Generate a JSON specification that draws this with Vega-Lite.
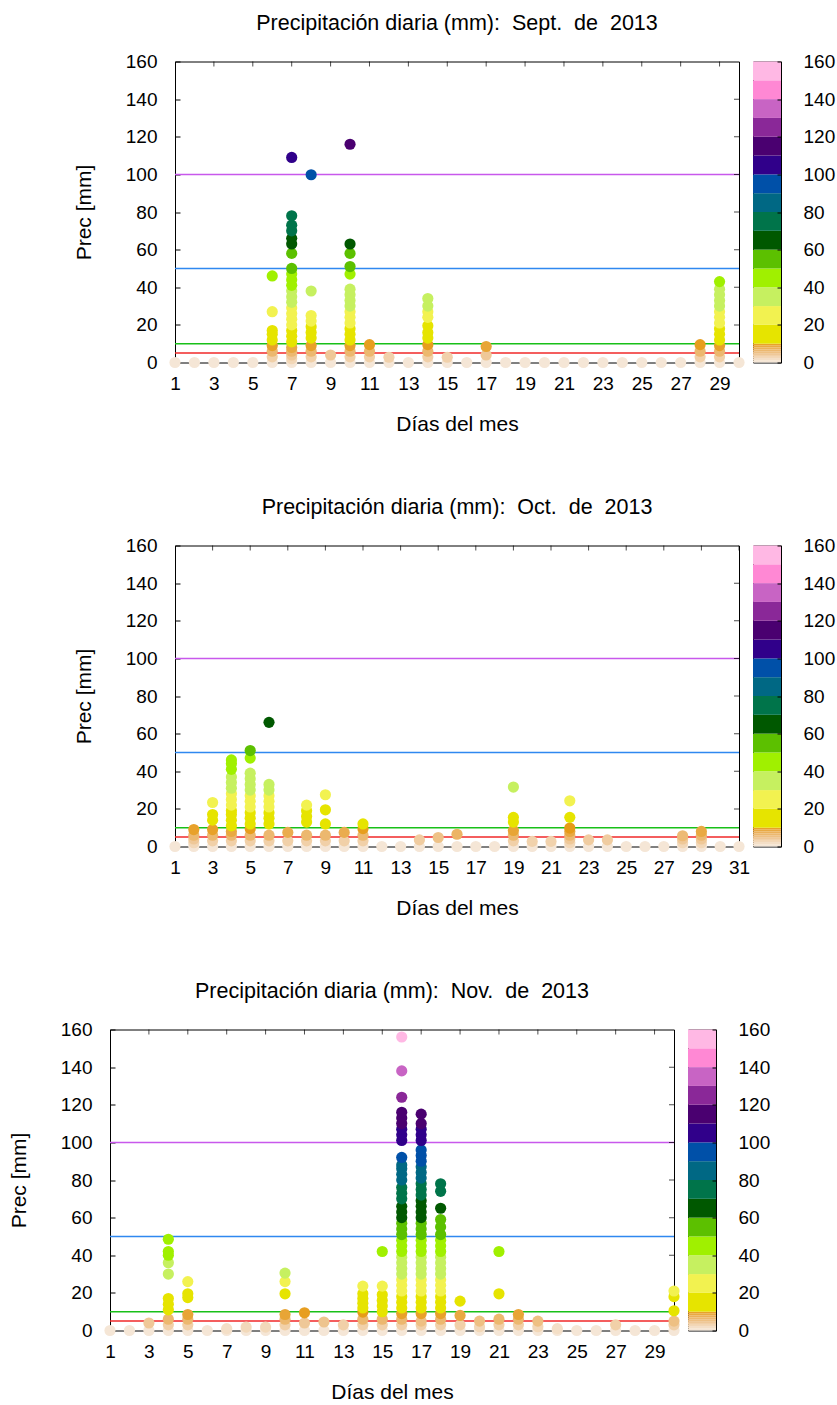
{
  "$schema": "https://vega.github.io/schema/vega-lite/v6.json",
  "padding": {"left": 7, "top": 12.5, "right": 0, "bottom": 0},
  "config": {
    "font": "Liberation Sans",
    "view": {"stroke": "#000", "strokeWidth": 1},
    "axis": {
      "grid": false, "domain": false, "labelOverlap": false, "tickCount": 40,
      "labelFont": "Liberation Sans", "labelFontSize": 19, "labelColor": "#000",
      "titleFont": "Liberation Sans", "titleFontSize": 21, "titleFontWeight": "normal", "titleColor": "#000",
      "tickColor": "#000", "tickWidth": 1
    },
    "title": {"font": "Liberation Sans", "fontSize": 21.5, "fontWeight": "normal", "color": "#000", "offset": 18}
  },
  "datasets": {
    "lines": [{"v": 5}, {"v": 10}, {"v": 50}, {"v": 100}],
    "xt30": [{"d": 1}, {"d": 3}, {"d": 5}, {"d": 7}, {"d": 9}, {"d": 11}, {"d": 13}, {"d": 15}, {"d": 17}, {"d": 19}, {"d": 21}, {"d": 23}, {"d": 25}, {"d": 27}, {"d": 29}],
    "xt31": [{"d": 1}, {"d": 3}, {"d": 5}, {"d": 7}, {"d": 9}, {"d": 11}, {"d": 13}, {"d": 15}, {"d": 17}, {"d": 19}, {"d": 21}, {"d": 23}, {"d": 25}, {"d": 27}, {"d": 29}, {"d": 31}],
    "yt": [{"v": 20}, {"v": 40}, {"v": 60}, {"v": 80}, {"v": 100}, {"v": 120}, {"v": 140}],
    "cbar": [
      {"lo": 0, "hi": 1}, {"lo": 1, "hi": 2}, {"lo": 2, "hi": 3}, {"lo": 3, "hi": 4}, {"lo": 4, "hi": 5},
      {"lo": 5, "hi": 6}, {"lo": 6, "hi": 7}, {"lo": 7, "hi": 8}, {"lo": 8, "hi": 9}, {"lo": 9, "hi": 10},
      {"lo": 10, "hi": 20}, {"lo": 20, "hi": 30}, {"lo": 30, "hi": 40}, {"lo": 40, "hi": 50}, {"lo": 50, "hi": 60},
      {"lo": 60, "hi": 70}, {"lo": 70, "hi": 80}, {"lo": 80, "hi": 90}, {"lo": 90, "hi": 100}, {"lo": 100, "hi": 110},
      {"lo": 110, "hi": 120}, {"lo": 120, "hi": 130}, {"lo": 130, "hi": 140}, {"lo": 140, "hi": 150}, {"lo": 150, "hi": 160}
    ],
    "sep": [
      {"d": 1, "v": 0}, {"d": 2, "v": 0}, {"d": 3, "v": 0}, {"d": 4, "v": 0}, {"d": 5, "v": 0},
      {"d": 6, "v": 0}, {"d": 6, "v": 3}, {"d": 6, "v": 6}, {"d": 6, "v": 9}, {"d": 6, "v": 12}, {"d": 6, "v": 15}, {"d": 6, "v": 17}, {"d": 6, "v": 27}, {"d": 6, "v": 46},
      {"d": 7, "v": 0}, {"d": 7, "v": 2}, {"d": 7, "v": 4}, {"d": 7, "v": 6}, {"d": 7, "v": 8}, {"d": 7, "v": 11}, {"d": 7, "v": 14}, {"d": 7, "v": 17}, {"d": 7, "v": 20}, {"d": 7, "v": 23}, {"d": 7, "v": 26}, {"d": 7, "v": 29}, {"d": 7, "v": 32}, {"d": 7, "v": 35}, {"d": 7, "v": 38}, {"d": 7, "v": 41}, {"d": 7, "v": 44}, {"d": 7, "v": 47}, {"d": 7, "v": 50}, {"d": 7, "v": 58}, {"d": 7, "v": 63}, {"d": 7, "v": 66}, {"d": 7, "v": 70}, {"d": 7, "v": 73}, {"d": 7, "v": 78}, {"d": 7, "v": 109},
      {"d": 8, "v": 0}, {"d": 8, "v": 3}, {"d": 8, "v": 6}, {"d": 8, "v": 9}, {"d": 8, "v": 13}, {"d": 8, "v": 16}, {"d": 8, "v": 19}, {"d": 8, "v": 22}, {"d": 8, "v": 25}, {"d": 8, "v": 38}, {"d": 8, "v": 99.8},
      {"d": 9, "v": 0}, {"d": 9, "v": 4},
      {"d": 10, "v": 0}, {"d": 10, "v": 3}, {"d": 10, "v": 6}, {"d": 10, "v": 9}, {"d": 10, "v": 12}, {"d": 10, "v": 15}, {"d": 10, "v": 18}, {"d": 10, "v": 21}, {"d": 10, "v": 24}, {"d": 10, "v": 27}, {"d": 10, "v": 30}, {"d": 10, "v": 33}, {"d": 10, "v": 36}, {"d": 10, "v": 39}, {"d": 10, "v": 47}, {"d": 10, "v": 51}, {"d": 10, "v": 58}, {"d": 10, "v": 63}, {"d": 10, "v": 116},
      {"d": 11, "v": 0}, {"d": 11, "v": 3}, {"d": 11, "v": 6}, {"d": 11, "v": 9.5},
      {"d": 12, "v": 0}, {"d": 12, "v": 2.8},
      {"d": 13, "v": 0},
      {"d": 14, "v": 0}, {"d": 14, "v": 3}, {"d": 14, "v": 6}, {"d": 14, "v": 9.5}, {"d": 14, "v": 13}, {"d": 14, "v": 16}, {"d": 14, "v": 19.5}, {"d": 14, "v": 24}, {"d": 14, "v": 27}, {"d": 14, "v": 30}, {"d": 14, "v": 34},
      {"d": 15, "v": 0}, {"d": 15, "v": 2.8},
      {"d": 16, "v": 0},
      {"d": 17, "v": 0}, {"d": 17, "v": 4}, {"d": 17, "v": 8.5},
      {"d": 18, "v": 0}, {"d": 19, "v": 0}, {"d": 20, "v": 0}, {"d": 21, "v": 0}, {"d": 22, "v": 0}, {"d": 23, "v": 0}, {"d": 24, "v": 0}, {"d": 25, "v": 0}, {"d": 26, "v": 0}, {"d": 27, "v": 0},
      {"d": 28, "v": 0}, {"d": 28, "v": 3}, {"d": 28, "v": 6}, {"d": 28, "v": 9.5},
      {"d": 29, "v": 0}, {"d": 29, "v": 3}, {"d": 29, "v": 6}, {"d": 29, "v": 9}, {"d": 29, "v": 12}, {"d": 29, "v": 15}, {"d": 29, "v": 18}, {"d": 29, "v": 21}, {"d": 29, "v": 24}, {"d": 29, "v": 27}, {"d": 29, "v": 30}, {"d": 29, "v": 33}, {"d": 29, "v": 36}, {"d": 29, "v": 39}, {"d": 29, "v": 43},
      {"d": 30, "v": 0}
    ],
    "oct": [
      {"d": 1, "v": 0},
      {"d": 2, "v": 0}, {"d": 2, "v": 2}, {"d": 2, "v": 4}, {"d": 2, "v": 6}, {"d": 2, "v": 9},
      {"d": 3, "v": 0}, {"d": 3, "v": 3}, {"d": 3, "v": 6}, {"d": 3, "v": 9}, {"d": 3, "v": 14}, {"d": 3, "v": 17}, {"d": 3, "v": 23.4},
      {"d": 4, "v": 0}, {"d": 4, "v": 3}, {"d": 4, "v": 6}, {"d": 4, "v": 8}, {"d": 4, "v": 11}, {"d": 4, "v": 14}, {"d": 4, "v": 17}, {"d": 4, "v": 19}, {"d": 4, "v": 22}, {"d": 4, "v": 25}, {"d": 4, "v": 28}, {"d": 4, "v": 31}, {"d": 4, "v": 34}, {"d": 4, "v": 37}, {"d": 4, "v": 41}, {"d": 4, "v": 44}, {"d": 4, "v": 46},
      {"d": 5, "v": 0}, {"d": 5, "v": 3}, {"d": 5, "v": 6}, {"d": 5, "v": 9.5}, {"d": 5, "v": 12}, {"d": 5, "v": 15}, {"d": 5, "v": 18}, {"d": 5, "v": 21}, {"d": 5, "v": 24}, {"d": 5, "v": 27}, {"d": 5, "v": 30}, {"d": 5, "v": 33}, {"d": 5, "v": 36}, {"d": 5, "v": 39}, {"d": 5, "v": 47}, {"d": 5, "v": 51},
      {"d": 6, "v": 0}, {"d": 6, "v": 3}, {"d": 6, "v": 6}, {"d": 6, "v": 12}, {"d": 6, "v": 15}, {"d": 6, "v": 18}, {"d": 6, "v": 21}, {"d": 6, "v": 24}, {"d": 6, "v": 27}, {"d": 6, "v": 30}, {"d": 6, "v": 33}, {"d": 6, "v": 66},
      {"d": 7, "v": 0}, {"d": 7, "v": 3}, {"d": 7, "v": 7.5},
      {"d": 8, "v": 0}, {"d": 8, "v": 3}, {"d": 8, "v": 6}, {"d": 8, "v": 13}, {"d": 8, "v": 16}, {"d": 8, "v": 19}, {"d": 8, "v": 22},
      {"d": 9, "v": 0}, {"d": 9, "v": 3}, {"d": 9, "v": 6}, {"d": 9, "v": 12}, {"d": 9, "v": 19.5}, {"d": 9, "v": 27.5},
      {"d": 10, "v": 0}, {"d": 10, "v": 3}, {"d": 10, "v": 7.5},
      {"d": 11, "v": 0}, {"d": 11, "v": 3}, {"d": 11, "v": 6}, {"d": 11, "v": 9.5}, {"d": 11, "v": 12},
      {"d": 12, "v": 0}, {"d": 13, "v": 0},
      {"d": 14, "v": 0}, {"d": 14, "v": 3.5},
      {"d": 15, "v": 0}, {"d": 15, "v": 4.8},
      {"d": 16, "v": 0}, {"d": 16, "v": 6.5},
      {"d": 17, "v": 0}, {"d": 18, "v": 0},
      {"d": 19, "v": 0}, {"d": 19, "v": 3}, {"d": 19, "v": 6}, {"d": 19, "v": 8.5}, {"d": 19, "v": 13}, {"d": 19, "v": 15.5}, {"d": 19, "v": 31.6},
      {"d": 20, "v": 0}, {"d": 20, "v": 2.7},
      {"d": 21, "v": 0}, {"d": 21, "v": 2.7},
      {"d": 22, "v": 0}, {"d": 22, "v": 2}, {"d": 22, "v": 4}, {"d": 22, "v": 6}, {"d": 22, "v": 8}, {"d": 22, "v": 9.8}, {"d": 22, "v": 15.5}, {"d": 22, "v": 24.3},
      {"d": 23, "v": 0}, {"d": 23, "v": 3.5},
      {"d": 24, "v": 0}, {"d": 24, "v": 3.5},
      {"d": 25, "v": 0}, {"d": 26, "v": 0}, {"d": 27, "v": 0},
      {"d": 28, "v": 0}, {"d": 28, "v": 2}, {"d": 28, "v": 4}, {"d": 28, "v": 5.7},
      {"d": 29, "v": 0}, {"d": 29, "v": 2}, {"d": 29, "v": 4}, {"d": 29, "v": 6}, {"d": 29, "v": 8},
      {"d": 30, "v": 0}, {"d": 31, "v": 0}
    ],
    "nov": [
      {"d": 1, "v": 0}, {"d": 2, "v": 0},
      {"d": 3, "v": 0}, {"d": 3, "v": 4},
      {"d": 4, "v": 0}, {"d": 4, "v": 3}, {"d": 4, "v": 6}, {"d": 4, "v": 11}, {"d": 4, "v": 14}, {"d": 4, "v": 17}, {"d": 4, "v": 30}, {"d": 4, "v": 36}, {"d": 4, "v": 40}, {"d": 4, "v": 42}, {"d": 4, "v": 48.5},
      {"d": 5, "v": 0}, {"d": 5, "v": 3}, {"d": 5, "v": 6}, {"d": 5, "v": 8.5}, {"d": 5, "v": 17.5}, {"d": 5, "v": 19.5}, {"d": 5, "v": 26},
      {"d": 6, "v": 0},
      {"d": 7, "v": 0}, {"d": 7, "v": 1},
      {"d": 8, "v": 0}, {"d": 8, "v": 1.8},
      {"d": 9, "v": 0}, {"d": 9, "v": 1.8},
      {"d": 10, "v": 0}, {"d": 10, "v": 3}, {"d": 10, "v": 6}, {"d": 10, "v": 8.5}, {"d": 10, "v": 19.5}, {"d": 10, "v": 26}, {"d": 10, "v": 30.5},
      {"d": 11, "v": 0}, {"d": 11, "v": 4}, {"d": 11, "v": 9.4},
      {"d": 12, "v": 0}, {"d": 12, "v": 4.5},
      {"d": 13, "v": 0}, {"d": 13, "v": 3},
      {"d": 14, "v": 0}, {"d": 14, "v": 3}, {"d": 14, "v": 6}, {"d": 14, "v": 9.8}, {"d": 14, "v": 12}, {"d": 14, "v": 14.5}, {"d": 14, "v": 17}, {"d": 14, "v": 19.5}, {"d": 14, "v": 23.6},
      {"d": 15, "v": 0}, {"d": 15, "v": 3}, {"d": 15, "v": 6}, {"d": 15, "v": 10}, {"d": 15, "v": 13}, {"d": 15, "v": 16}, {"d": 15, "v": 19}, {"d": 15, "v": 23.6}, {"d": 15, "v": 42},
      {"d": 16, "v": 0}, {"d": 16, "v": 3}, {"d": 16, "v": 6}, {"d": 16, "v": 9}, {"d": 16, "v": 12}, {"d": 16, "v": 15}, {"d": 16, "v": 18}, {"d": 16, "v": 21}, {"d": 16, "v": 24}, {"d": 16, "v": 27}, {"d": 16, "v": 30}, {"d": 16, "v": 33}, {"d": 16, "v": 36}, {"d": 16, "v": 39}, {"d": 16, "v": 42}, {"d": 16, "v": 45}, {"d": 16, "v": 48}, {"d": 16, "v": 51}, {"d": 16, "v": 54}, {"d": 16, "v": 57}, {"d": 16, "v": 60}, {"d": 16, "v": 63}, {"d": 16, "v": 66}, {"d": 16, "v": 70}, {"d": 16, "v": 73}, {"d": 16, "v": 76}, {"d": 16, "v": 80}, {"d": 16, "v": 83}, {"d": 16, "v": 86}, {"d": 16, "v": 88}, {"d": 16, "v": 92}, {"d": 16, "v": 101}, {"d": 16, "v": 104}, {"d": 16, "v": 107}, {"d": 16, "v": 110}, {"d": 16, "v": 113}, {"d": 16, "v": 116}, {"d": 16, "v": 124}, {"d": 16, "v": 138}, {"d": 16, "v": 156},
      {"d": 17, "v": 0}, {"d": 17, "v": 3}, {"d": 17, "v": 5}, {"d": 17, "v": 9}, {"d": 17, "v": 12}, {"d": 17, "v": 15}, {"d": 17, "v": 18}, {"d": 17, "v": 21}, {"d": 17, "v": 24}, {"d": 17, "v": 27}, {"d": 17, "v": 30}, {"d": 17, "v": 33}, {"d": 17, "v": 36}, {"d": 17, "v": 39}, {"d": 17, "v": 42}, {"d": 17, "v": 45}, {"d": 17, "v": 48}, {"d": 17, "v": 51}, {"d": 17, "v": 54}, {"d": 17, "v": 57}, {"d": 17, "v": 60}, {"d": 17, "v": 63}, {"d": 17, "v": 66}, {"d": 17, "v": 69}, {"d": 17, "v": 72}, {"d": 17, "v": 75}, {"d": 17, "v": 78}, {"d": 17, "v": 81}, {"d": 17, "v": 84}, {"d": 17, "v": 87}, {"d": 17, "v": 90}, {"d": 17, "v": 93}, {"d": 17, "v": 96}, {"d": 17, "v": 101}, {"d": 17, "v": 104}, {"d": 17, "v": 107}, {"d": 17, "v": 110}, {"d": 17, "v": 115},
      {"d": 18, "v": 0}, {"d": 18, "v": 3}, {"d": 18, "v": 6}, {"d": 18, "v": 9}, {"d": 18, "v": 12}, {"d": 18, "v": 15}, {"d": 18, "v": 18}, {"d": 18, "v": 21}, {"d": 18, "v": 24}, {"d": 18, "v": 27}, {"d": 18, "v": 30}, {"d": 18, "v": 33}, {"d": 18, "v": 36}, {"d": 18, "v": 39}, {"d": 18, "v": 42}, {"d": 18, "v": 45}, {"d": 18, "v": 48}, {"d": 18, "v": 51}, {"d": 18, "v": 55}, {"d": 18, "v": 59}, {"d": 18, "v": 65}, {"d": 18, "v": 74}, {"d": 18, "v": 78},
      {"d": 19, "v": 0}, {"d": 19, "v": 3}, {"d": 19, "v": 8}, {"d": 19, "v": 15.6},
      {"d": 20, "v": 0}, {"d": 20, "v": 2}, {"d": 20, "v": 5},
      {"d": 21, "v": 0}, {"d": 21, "v": 3}, {"d": 21, "v": 6}, {"d": 21, "v": 19.5}, {"d": 21, "v": 42},
      {"d": 22, "v": 0}, {"d": 22, "v": 3}, {"d": 22, "v": 6}, {"d": 22, "v": 8.5},
      {"d": 23, "v": 0}, {"d": 23, "v": 2}, {"d": 23, "v": 5},
      {"d": 24, "v": 0}, {"d": 24, "v": 1},
      {"d": 25, "v": 0}, {"d": 26, "v": 0},
      {"d": 27, "v": 0}, {"d": 27, "v": 3},
      {"d": 28, "v": 0}, {"d": 29, "v": 0},
      {"d": 30, "v": 0}, {"d": 30, "v": 3}, {"d": 30, "v": 5}, {"d": 30, "v": 10.5}, {"d": 30, "v": 18}, {"d": 30, "v": 21}
    ]
  },
  "spacing": 61,
  "vconcat": [
    {
      "bounds": "flush",
      "spacing": 14,
      "hconcat": [
        {"width": 51, "height": 301, "data": {"values": [{}]}, "mark": {"type": "point", "opacity": 0}, "view": {"stroke": null}},
        {
          "width": 564, "height": 301,
          "title": "Precipitación diaria (mm):\u00a0 Sept.\u00a0 de\u00a0 2013",
          "layer": [
            {
              "data": {"name": "lines"},
              "mark": {"type": "rule", "strokeWidth": 1.5},
              "encoding": {
                "y": {"field": "v", "type": "quantitative", "scale": {"domain": [0, 160], "nice": false}},
                "stroke": {"field": "v", "type": "ordinal", "legend": null,
                           "scale": {"domain": [5, 10, 50, 100], "range": ["#f02828", "#18c018", "#2f88f0", "#c858ec"]}}
              }
            },
            {
              "data": {"name": "xt30"},
              "mark": {"type": "tick", "orient": "vertical", "size": 10, "thickness": 1, "color": "#000", "clip": true},
              "encoding": {
                "x": {"field": "d", "type": "quantitative"},
                "y": {"datum": 160, "type": "quantitative"}
              }
            },
            {
              "data": {"name": "yt"},
              "mark": {"type": "tick", "orient": "horizontal", "size": 10, "thickness": 1, "color": "#000", "clip": true},
              "encoding": {
                "x": {"datum": 30, "type": "quantitative"},
                "y": {"field": "v", "type": "quantitative"}
              }
            },
            {
              "data": {"name": "sep"},
              "mark": {"type": "circle", "size": 125, "opacity": 1, "clip": false},
              "encoding": {
                "x": {"field": "d", "type": "quantitative", "scale": {"domain": [1, 30], "nice": false, "zero": false},
                      "axis": {"orient": "bottom", "values": [1, 3, 5, 7, 9, 11, 13, 15, 17, 19, 21, 23, 25, 27, 29], "tickCount": 40, "title": "Días del mes", "tickSize": -5, "labelPadding": 17, "titlePadding": 20, "labelFlush": false, "labelOverlap": false}},
                "y": {"field": "v", "type": "quantitative", "scale": {"domain": [0, 160], "nice": false},
                      "axis": {"orient": "left", "values": [0, 20, 40, 60, 80, 100, 120, 140, 160], "tickCount": 40, "title": "Prec [mm]", "tickSize": -5, "labelPadding": 23, "titlePadding": 31, "labelOverlap": false}},
                "color": {"field": "v", "type": "quantitative", "legend": null,
                  "scale": {"type": "linear", "zero": false, "nice": false, "clamp": true, "interpolate": "rgb",
                    "domain": [0, 4, 7, 9.999, 10, 19.999, 20, 29.999, 30, 39.999, 40, 49.999, 50, 59.999, 60, 69.999, 70, 79.999, 80, 89.999, 90, 99.999, 100, 109.999, 110, 119.999, 120, 129.999, 130, 139.999, 140, 149.999, 150, 160],
                    "range": ["#f5e6d6", "#efc898", "#ebb05a", "#e69a12", "#e6e400", "#e6e400", "#f2f250", "#f2f250", "#c6f060", "#c6f060", "#a0f000", "#a0f000", "#5cc000", "#5cc000", "#005800", "#005800", "#00744a", "#00744a", "#006884", "#006884", "#0050a8", "#0050a8", "#30008a", "#30008a", "#4a0070", "#4a0070", "#8a2898", "#8a2898", "#c864c4", "#c864c4", "#ff88d4", "#ff88d4", "#ffb8e4", "#ffb8e4"]}}
              }
            }
          ]
        },
        {
          "width": 28, "height": 301,
          "data": {"name": "cbar"},
          "mark": {"type": "rect"},
          "encoding": {
            "y": {"field": "lo", "type": "quantitative", "scale": {"domain": [0, 160], "nice": false},
                  "axis": {"orient": "right", "values": [0, 20, 40, 60, 80, 100, 120, 140, 160], "tickCount": 40, "title": null, "tickSize": -4, "labelPadding": 26, "zindex": 1, "labelOverlap": false}},
            "y2": {"field": "hi"},
            "color": {"field": "lo", "type": "quantitative", "legend": null,
              "scale": {"type": "linear", "zero": false, "nice": false, "clamp": true, "interpolate": "rgb",
                "domain": [0, 4, 7, 9.999, 10, 19.999, 20, 29.999, 30, 39.999, 40, 49.999, 50, 59.999, 60, 69.999, 70, 79.999, 80, 89.999, 90, 99.999, 100, 109.999, 110, 119.999, 120, 129.999, 130, 139.999, 140, 149.999, 150, 160],
                "range": ["#f5e6d6", "#efc898", "#ebb05a", "#e69a12", "#e6e400", "#e6e400", "#f2f250", "#f2f250", "#c6f060", "#c6f060", "#a0f000", "#a0f000", "#5cc000", "#5cc000", "#005800", "#005800", "#00744a", "#00744a", "#006884", "#006884", "#0050a8", "#0050a8", "#30008a", "#30008a", "#4a0070", "#4a0070", "#8a2898", "#8a2898", "#c864c4", "#c864c4", "#ff88d4", "#ff88d4", "#ffb8e4", "#ffb8e4"]}}
          }
        }
      ]
    },
    {
      "bounds": "flush",
      "spacing": 14,
      "hconcat": [
        {"width": 51, "height": 301, "data": {"values": [{}]}, "mark": {"type": "point", "opacity": 0}, "view": {"stroke": null}},
        {
          "width": 564, "height": 301,
          "title": "Precipitación diaria (mm):\u00a0 Oct.\u00a0 de\u00a0 2013",
          "layer": [
            {
              "data": {"name": "lines"},
              "mark": {"type": "rule", "strokeWidth": 1.5},
              "encoding": {
                "y": {"field": "v", "type": "quantitative", "scale": {"domain": [0, 160], "nice": false}},
                "stroke": {"field": "v", "type": "ordinal", "legend": null,
                           "scale": {"domain": [5, 10, 50, 100], "range": ["#f02828", "#18c018", "#2f88f0", "#c858ec"]}}
              }
            },
            {
              "data": {"name": "xt31"},
              "mark": {"type": "tick", "orient": "vertical", "size": 10, "thickness": 1, "color": "#000", "clip": true},
              "encoding": {
                "x": {"field": "d", "type": "quantitative"},
                "y": {"datum": 160, "type": "quantitative"}
              }
            },
            {
              "data": {"name": "yt"},
              "mark": {"type": "tick", "orient": "horizontal", "size": 10, "thickness": 1, "color": "#000", "clip": true},
              "encoding": {
                "x": {"datum": 31, "type": "quantitative"},
                "y": {"field": "v", "type": "quantitative"}
              }
            },
            {
              "data": {"name": "oct"},
              "mark": {"type": "circle", "size": 125, "opacity": 1, "clip": false},
              "encoding": {
                "x": {"field": "d", "type": "quantitative", "scale": {"domain": [1, 31], "nice": false, "zero": false},
                      "axis": {"orient": "bottom", "values": [1, 3, 5, 7, 9, 11, 13, 15, 17, 19, 21, 23, 25, 27, 29, 31], "tickCount": 40, "title": "Días del mes", "tickSize": -5, "labelPadding": 17, "titlePadding": 20, "labelFlush": false, "labelOverlap": false}},
                "y": {"field": "v", "type": "quantitative", "scale": {"domain": [0, 160], "nice": false},
                      "axis": {"orient": "left", "values": [0, 20, 40, 60, 80, 100, 120, 140, 160], "tickCount": 40, "title": "Prec [mm]", "tickSize": -5, "labelPadding": 23, "titlePadding": 31, "labelOverlap": false}},
                "color": {"field": "v", "type": "quantitative", "legend": null,
                  "scale": {"type": "linear", "zero": false, "nice": false, "clamp": true, "interpolate": "rgb",
                    "domain": [0, 4, 7, 9.999, 10, 19.999, 20, 29.999, 30, 39.999, 40, 49.999, 50, 59.999, 60, 69.999, 70, 79.999, 80, 89.999, 90, 99.999, 100, 109.999, 110, 119.999, 120, 129.999, 130, 139.999, 140, 149.999, 150, 160],
                    "range": ["#f5e6d6", "#efc898", "#ebb05a", "#e69a12", "#e6e400", "#e6e400", "#f2f250", "#f2f250", "#c6f060", "#c6f060", "#a0f000", "#a0f000", "#5cc000", "#5cc000", "#005800", "#005800", "#00744a", "#00744a", "#006884", "#006884", "#0050a8", "#0050a8", "#30008a", "#30008a", "#4a0070", "#4a0070", "#8a2898", "#8a2898", "#c864c4", "#c864c4", "#ff88d4", "#ff88d4", "#ffb8e4", "#ffb8e4"]}}
              }
            }
          ]
        },
        {
          "width": 28, "height": 301,
          "data": {"name": "cbar"},
          "mark": {"type": "rect"},
          "encoding": {
            "y": {"field": "lo", "type": "quantitative", "scale": {"domain": [0, 160], "nice": false},
                  "axis": {"orient": "right", "values": [0, 20, 40, 60, 80, 100, 120, 140, 160], "tickCount": 40, "title": null, "tickSize": -4, "labelPadding": 26, "zindex": 1, "labelOverlap": false}},
            "y2": {"field": "hi"},
            "color": {"field": "lo", "type": "quantitative", "legend": null,
              "scale": {"type": "linear", "zero": false, "nice": false, "clamp": true, "interpolate": "rgb",
                "domain": [0, 4, 7, 9.999, 10, 19.999, 20, 29.999, 30, 39.999, 40, 49.999, 50, 59.999, 60, 69.999, 70, 79.999, 80, 89.999, 90, 99.999, 100, 109.999, 110, 119.999, 120, 129.999, 130, 139.999, 140, 149.999, 150, 160],
                "range": ["#f5e6d6", "#efc898", "#ebb05a", "#e69a12", "#e6e400", "#e6e400", "#f2f250", "#f2f250", "#c6f060", "#c6f060", "#a0f000", "#a0f000", "#5cc000", "#5cc000", "#005800", "#005800", "#00744a", "#00744a", "#006884", "#006884", "#0050a8", "#0050a8", "#30008a", "#30008a", "#4a0070", "#4a0070", "#8a2898", "#8a2898", "#c864c4", "#c864c4", "#ff88d4", "#ff88d4", "#ffb8e4", "#ffb8e4"]}}
          }
        }
      ]
    },
    {
      "bounds": "flush",
      "spacing": 14,
      "hconcat": [
        {
          "width": 564, "height": 301,
          "title": "Precipitación diaria (mm):\u00a0 Nov.\u00a0 de\u00a0 2013",
          "layer": [
            {
              "data": {"name": "lines"},
              "mark": {"type": "rule", "strokeWidth": 1.5},
              "encoding": {
                "y": {"field": "v", "type": "quantitative", "scale": {"domain": [0, 160], "nice": false}},
                "stroke": {"field": "v", "type": "ordinal", "legend": null,
                           "scale": {"domain": [5, 10, 50, 100], "range": ["#f02828", "#18c018", "#2f88f0", "#c858ec"]}}
              }
            },
            {
              "data": {"name": "xt30"},
              "mark": {"type": "tick", "orient": "vertical", "size": 10, "thickness": 1, "color": "#000", "clip": true},
              "encoding": {
                "x": {"field": "d", "type": "quantitative"},
                "y": {"datum": 160, "type": "quantitative"}
              }
            },
            {
              "data": {"name": "yt"},
              "mark": {"type": "tick", "orient": "horizontal", "size": 10, "thickness": 1, "color": "#000", "clip": true},
              "encoding": {
                "x": {"datum": 30, "type": "quantitative"},
                "y": {"field": "v", "type": "quantitative"}
              }
            },
            {
              "data": {"name": "nov"},
              "mark": {"type": "circle", "size": 125, "opacity": 1, "clip": false},
              "encoding": {
                "x": {"field": "d", "type": "quantitative", "scale": {"domain": [1, 30], "nice": false, "zero": false},
                      "axis": {"orient": "bottom", "values": [1, 3, 5, 7, 9, 11, 13, 15, 17, 19, 21, 23, 25, 27, 29], "tickCount": 40, "title": "Días del mes", "tickSize": -5, "labelPadding": 17, "titlePadding": 20, "labelFlush": false, "labelOverlap": false}},
                "y": {"field": "v", "type": "quantitative", "scale": {"domain": [0, 160], "nice": false},
                      "axis": {"orient": "left", "values": [0, 20, 40, 60, 80, 100, 120, 140, 160], "tickCount": 40, "title": "Prec [mm]", "tickSize": -5, "labelPadding": 23, "titlePadding": 31, "labelOverlap": false}},
                "color": {"field": "v", "type": "quantitative", "legend": null,
                  "scale": {"type": "linear", "zero": false, "nice": false, "clamp": true, "interpolate": "rgb",
                    "domain": [0, 4, 7, 9.999, 10, 19.999, 20, 29.999, 30, 39.999, 40, 49.999, 50, 59.999, 60, 69.999, 70, 79.999, 80, 89.999, 90, 99.999, 100, 109.999, 110, 119.999, 120, 129.999, 130, 139.999, 140, 149.999, 150, 160],
                    "range": ["#f5e6d6", "#efc898", "#ebb05a", "#e69a12", "#e6e400", "#e6e400", "#f2f250", "#f2f250", "#c6f060", "#c6f060", "#a0f000", "#a0f000", "#5cc000", "#5cc000", "#005800", "#005800", "#00744a", "#00744a", "#006884", "#006884", "#0050a8", "#0050a8", "#30008a", "#30008a", "#4a0070", "#4a0070", "#8a2898", "#8a2898", "#c864c4", "#c864c4", "#ff88d4", "#ff88d4", "#ffb8e4", "#ffb8e4"]}}
              }
            }
          ]
        },
        {
          "width": 28, "height": 301,
          "data": {"name": "cbar"},
          "mark": {"type": "rect"},
          "encoding": {
            "y": {"field": "lo", "type": "quantitative", "scale": {"domain": [0, 160], "nice": false},
                  "axis": {"orient": "right", "values": [0, 20, 40, 60, 80, 100, 120, 140, 160], "tickCount": 40, "title": null, "tickSize": -4, "labelPadding": 26, "zindex": 1, "labelOverlap": false}},
            "y2": {"field": "hi"},
            "color": {"field": "lo", "type": "quantitative", "legend": null,
              "scale": {"type": "linear", "zero": false, "nice": false, "clamp": true, "interpolate": "rgb",
                "domain": [0, 4, 7, 9.999, 10, 19.999, 20, 29.999, 30, 39.999, 40, 49.999, 50, 59.999, 60, 69.999, 70, 79.999, 80, 89.999, 90, 99.999, 100, 109.999, 110, 119.999, 120, 129.999, 130, 139.999, 140, 149.999, 150, 160],
                "range": ["#f5e6d6", "#efc898", "#ebb05a", "#e69a12", "#e6e400", "#e6e400", "#f2f250", "#f2f250", "#c6f060", "#c6f060", "#a0f000", "#a0f000", "#5cc000", "#5cc000", "#005800", "#005800", "#00744a", "#00744a", "#006884", "#006884", "#0050a8", "#0050a8", "#30008a", "#30008a", "#4a0070", "#4a0070", "#8a2898", "#8a2898", "#c864c4", "#c864c4", "#ff88d4", "#ff88d4", "#ffb8e4", "#ffb8e4"]}}
          }
        }
      ]
    }
  ]
}
